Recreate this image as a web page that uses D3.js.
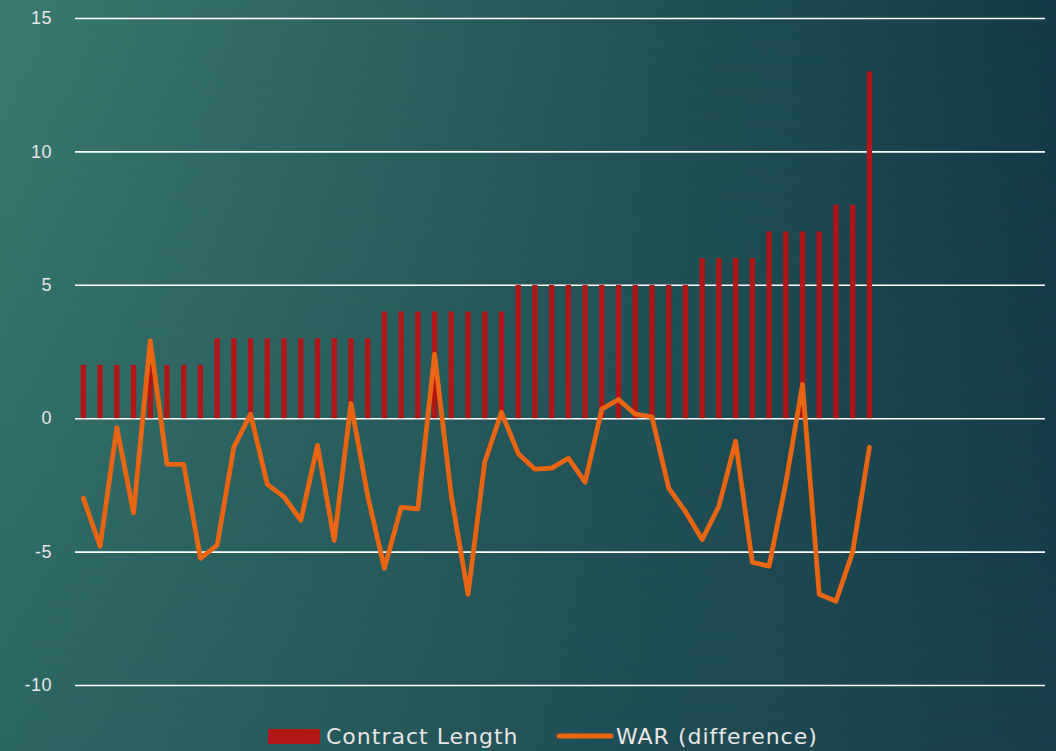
<!DOCTYPE html>
<html>
<head>
<meta charset="utf-8">
<script src="https://cdn.jsdelivr.net/npm/d3@7"></script>
<style>
  html, body { margin: 0; padding: 0; overflow: hidden; }
  svg { display: block; font-family: "DejaVu Sans", sans-serif; }
</style>
</head>
<body>
<div id="chart"></div>
<script>
// contract length (years) for each player, sorted
var contractLength = [2, 2, 2, 2, 2, 2, 2, 2,
    3, 3, 3, 3, 3, 3, 3, 3, 3, 3,
    4, 4, 4, 4, 4, 4, 4, 4,
    5, 5, 5, 5, 5, 5, 5, 5, 5, 5, 5,
    6, 6, 6, 6,
    7, 7, 7, 7,
    8, 8,
    13];

// WAR difference for the same players
var warDiff = [-3.0, -4.8, -0.35, -3.55, 2.9, -1.73, -1.73, -5.25, -4.76, -1.08,
    0.15, -2.48, -2.95, -3.83, -1.02, -4.58, 0.55, -2.9, -5.63, -3.34,
    -3.4, 2.4, -2.9, -6.6, -1.64, 0.22, -1.32, -1.91, -1.87, -1.5,
    -2.4, 0.34, 0.7, 0.15, 0.05, -2.62, -3.5, -4.55, -3.3, -0.86,
    -5.4, -5.55, -2.44, 1.27, -6.6, -6.86, -5.02, -1.09];

var yTicks = [-10, -5, 0, 5, 10, 15];
var slotCount = 58; // category axis has empty slots after the last player
var seriesNames = ["Contract Length", "WAR (difference)"];

var width = 1056;
var height = 751;
var margin = {top: 18, right: 11, bottom: 66, left: 75};

var svg = d3.select("#chart")
    .append("svg")
    .attr("width", width)
    .attr("height", height);

// background: top row + bottom row gradients blended vertically
var defs = svg.append("defs");
var gTop = defs.append("linearGradient").attr("id", "bgTop")
    .attr("x1", 0).attr("y1", 0).attr("x2", 1).attr("y2", 0);
gTop.append("stop").attr("offset", "0%").attr("stop-color", "#3b7a6f");
gTop.append("stop").attr("offset", "100%").attr("stop-color", "#123a48");
var gBot = defs.append("linearGradient").attr("id", "bgBot")
    .attr("x1", 0).attr("y1", 0).attr("x2", 1).attr("y2", 0);
gBot.append("stop").attr("offset", "0%").attr("stop-color", "#2c6663");
gBot.append("stop").attr("offset", "100%").attr("stop-color", "#173e4c");
var gFade = defs.append("linearGradient").attr("id", "fade")
    .attr("x1", 0).attr("y1", 0).attr("x2", 0).attr("y2", 1);
gFade.append("stop").attr("offset", "0%").attr("stop-color", "#fff").attr("stop-opacity", 0);
gFade.append("stop").attr("offset", "100%").attr("stop-color", "#fff").attr("stop-opacity", 1);
defs.append("mask").attr("id", "fadeMask")
    .append("rect").attr("width", width).attr("height", height).attr("fill", "url(#fade)");

svg.append("rect").attr("width", width).attr("height", height).attr("fill", "url(#bgTop)");
svg.append("rect").attr("width", width).attr("height", height).attr("fill", "url(#bgBot)")
    .attr("mask", "url(#fadeMask)");

// scales
var x = d3.scaleBand()
    .domain(d3.range(slotCount))
    .range([margin.left, width - margin.right])
    .paddingInner(0.68)
    .paddingOuter(0.34);

var y = d3.scaleLinear()
    .domain([-10, 15])
    .range([height - margin.bottom, margin.top]);

// gridlines + y labels
var yAxis = svg.append("g")
    .attr("transform", "translate(" + margin.left + ",0)")
    .call(d3.axisLeft(y)
        .tickValues(yTicks)
        .tickFormat(function (d) { return String(d); })
        .tickSize(-(width - margin.left - margin.right))
        .tickPadding(23));
yAxis.select(".domain").remove();
yAxis.selectAll(".tick line")
    .attr("stroke", "#ffffff")
    .attr("stroke-width", 1.6);
yAxis.selectAll(".tick text")
    .attr("fill", "#e6e6e6")
    .style("font-size", "18px")
    .style("letter-spacing", "0.5px");

// bars
svg.append("g")
    .selectAll("rect")
    .data(contractLength)
    .enter()
    .append("rect")
    .attr("x", function (d, i) { return x(i); })
    .attr("y", function (d) { return y(d); })
    .attr("width", x.bandwidth())
    .attr("height", function (d) { return y(0) - y(d); })
    .attr("fill", "#b01616");

// WAR line
var line = d3.line()
    .x(function (d, i) { return x(i) + x.bandwidth() / 2; })
    .y(function (d) { return y(d); });

svg.append("path")
    .datum(warDiff)
    .attr("d", line)
    .attr("fill", "none")
    .attr("stroke", "#e96511")
    .attr("stroke-width", 4.8)
    .attr("stroke-linejoin", "round")
    .attr("stroke-linecap", "round");

// legend
var legend = svg.append("g");
legend.append("rect")
    .attr("x", 268).attr("y", 729)
    .attr("width", 52).attr("height", 15)
    .attr("fill", "#b01616");
legend.append("text")
    .attr("x", 326).attr("y", 744)
    .attr("fill", "#e6e6e6")
    .style("font-size", "22px")
    .style("letter-spacing", "1px")
    .text(seriesNames[0]);
legend.append("line")
    .attr("x1", 559).attr("x2", 611)
    .attr("y1", 736).attr("y2", 736)
    .attr("stroke", "#e96511")
    .attr("stroke-width", 5)
    .attr("stroke-linecap", "round");
legend.append("text")
    .attr("x", 616).attr("y", 744)
    .attr("fill", "#e6e6e6")
    .style("font-size", "22px")
    .style("letter-spacing", "1px")
    .text(seriesNames[1]);
</script>
</body>
</html>
